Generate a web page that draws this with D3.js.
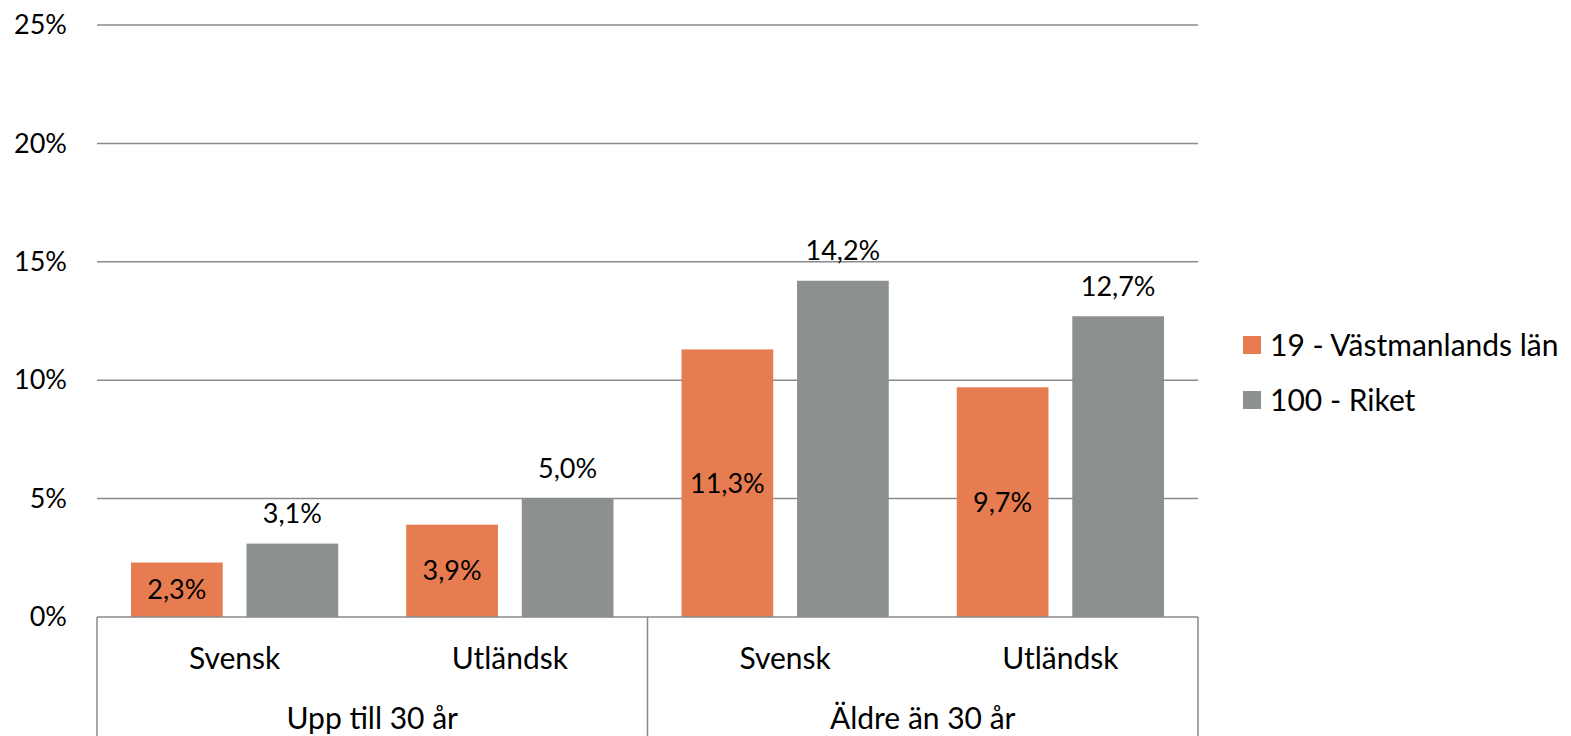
<!DOCTYPE html>
<html>
<head>
<meta charset="utf-8">
<script src="https://cdn.jsdelivr.net/npm/d3@7"></script>
<style>
  body { margin: 0; background: #fff; }
  text { font-family: Lato, "Open Sans", sans-serif; fill: #000; }
</style>
</head>
<body>
<svg id="chart" width="1571" height="736"></svg>
<script>
var categories = ["Svensk", "Utländsk", "Svensk", "Utländsk"];
var groups = ["Upp till 30 år", "Äldre än 30 år"];
var seriesNames = ["19 - Västmanlands län", "100 - Riket"];
var lanValues = [2.3, 3.9, 11.3, 9.7];
var riketValues = [3.1, 5.0, 14.2, 12.7];
var yTicks = [0, 5, 10, 15, 20, 25];

var colors = ["#E67C4F", "#8C918E"];

var plot = {left: 97, right: 1198, top: 25, bottom: 617};
var numSize = 27;   // numbers
var wordSize = 30;  // words

var svg = d3.select("#chart");

var x0 = d3.scaleBand()
    .domain(d3.range(categories.length))
    .range([plot.left, plot.right])
    .padding(0);

var x1 = d3.scaleBand()
    .domain([0, 1])
    .range([34, x0.bandwidth() - 34])
    .paddingInner(0.206)
    .paddingOuter(0);

var y = d3.scaleLinear()
    .domain([0, 25])
    .range([plot.bottom, plot.top]);

// gridlines
svg.append("g")
    .selectAll("line")
    .data(yTicks.filter(function(d) { return d > 0; }))
    .enter()
    .append("line")
    .attr("x1", plot.left)
    .attr("x2", plot.right)
    .attr("y1", function(d) { return y(d); })
    .attr("y2", function(d) { return y(d); })
    .style("stroke", "#8a8a8a")
    .style("stroke-width", 1.5);

// y axis labels
var yAxis = d3.axisLeft(y)
    .tickValues(yTicks)
    .tickSize(0)
    .tickPadding(30)
    .tickFormat(function(d) { return d + "%"; });

var yg = svg.append("g")
    .attr("transform", "translate(" + plot.left + ",0)")
    .call(yAxis);
yg.select(".domain").remove();
yg.selectAll("text")
    .style("font-size", numSize + "px")
    .style("font-family", "Lato, sans-serif")
    .attr("fill", "#000");

// bars
var rows = categories.map(function(c, i) {
    return {i: i, values: [lanValues[i], riketValues[i]]};
});

var catG = svg.append("g")
    .selectAll("g")
    .data(rows)
    .enter()
    .append("g")
    .attr("transform", function(d) { return "translate(" + x0(d.i) + ",0)"; });

catG.selectAll("rect")
    .data(function(d) { return d.values.map(function(v, s) { return {s: s, v: v}; }); })
    .enter()
    .append("rect")
    .attr("x", function(d) { return x1(d.s); })
    .attr("width", x1.bandwidth())
    .attr("y", function(d) { return y(d.v); })
    .attr("height", function(d) { return y(0) - y(d.v); })
    .style("fill", function(d) { return colors[d.s]; });

// value labels: first series inside bar, second above
catG.selectAll("text.val")
    .data(function(d) { return d.values.map(function(v, s) { return {s: s, v: v}; }); })
    .enter()
    .append("text")
    .attr("class", "val")
    .attr("x", function(d) { return x1(d.s) + x1.bandwidth() / 2; })
    .attr("y", function(d) {
        if (d.s == 0) return (y(d.v) + y(0)) / 2;
        return y(d.v) - 30;
    })
    .attr("dy", "0.35em")
    .attr("text-anchor", "middle")
    .style("font-size", numSize + "px")
    .text(function(d) { return d.v.toFixed(1).replace(".", ",") + "%"; });

// x axis box
var axisColor = "#8a8a8a";
svg.append("line")
    .attr("x1", plot.left).attr("x2", plot.right)
    .attr("y1", plot.bottom).attr("y2", plot.bottom)
    .style("stroke", axisColor).style("stroke-width", 1.5);

var boundaries = [0, 2, 4];
svg.append("g")
    .selectAll("line")
    .data(boundaries)
    .enter()
    .append("line")
    .attr("x1", function(d) { return d == 4 ? plot.right : x0(d); })
    .attr("x2", function(d) { return d == 4 ? plot.right : x0(d); })
    .attr("y1", plot.bottom)
    .attr("y2", 736)
    .style("stroke", axisColor)
    .style("stroke-width", 1.5);

svg.append("g")
    .selectAll("text")
    .data(categories)
    .enter()
    .append("text")
    .attr("x", function(d, i) { return x0(i) + x0.bandwidth() / 2; })
    .attr("y", 658)
    .attr("dy", "0.35em")
    .attr("text-anchor", "middle")
    .style("font-size", wordSize + "px")
    .text(function(d) { return d; });

svg.append("g")
    .selectAll("text")
    .data(groups)
    .enter()
    .append("text")
    .attr("x", function(d, i) { return x0(i * 2) + x0.bandwidth(); })
    .attr("y", 718)
    .attr("dy", "0.35em")
    .attr("text-anchor", "middle")
    .style("font-size", wordSize + "px")
    .text(function(d) { return d; });

// legend
var legend = svg.append("g")
    .selectAll("g")
    .data(seriesNames)
    .enter()
    .append("g")
    .attr("transform", function(d, i) { return "translate(1243," + (345 + i * 55) + ")"; });

legend.append("rect")
    .attr("x", 0)
    .attr("y", -9)
    .attr("width", 18)
    .attr("height", 18)
    .style("fill", function(d, i) { return colors[i]; });

legend.append("text")
    .attr("x", 27)
    .attr("y", 0)
    .attr("dy", "0.35em")
    .style("font-size", wordSize + "px")
    .text(function(d) { return d; });
</script>
</body>
</html>
